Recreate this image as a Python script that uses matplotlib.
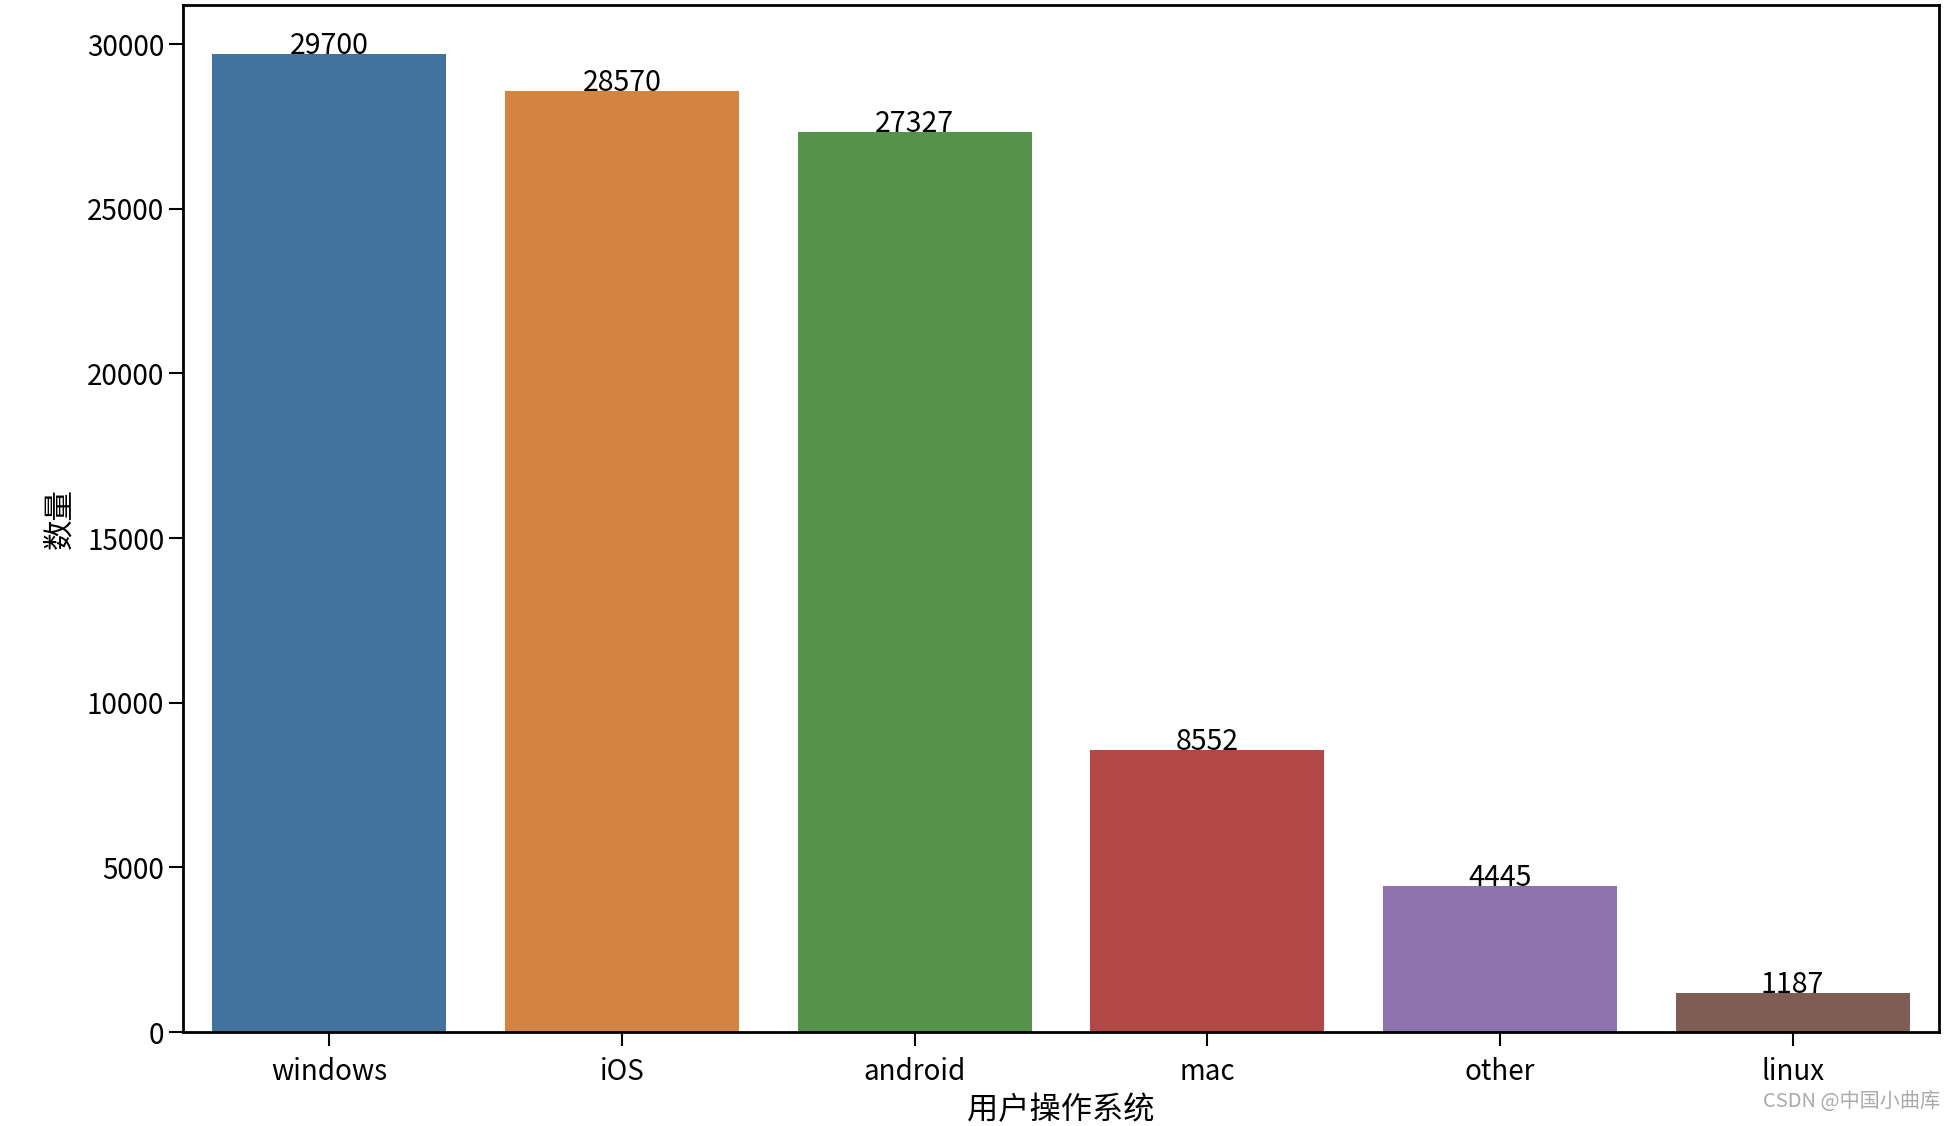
import matplotlib
matplotlib.use("Agg")
import matplotlib.pyplot as plt
import numpy as np

# 用户操作系统统计
systems = ["windows", "iOS", "android", "mac", "other", "linux"]
counts = [29700, 28570, 27327, 8552, 4445, 1187]
colors = ["#42739e", "#d5843f", "#55924a", "#b34745", "#8c73ad", "#7e5e54"]

plt.rcParams['font.family'] = ['Noto Sans CJK SC', 'DejaVu Sans']

fig = plt.figure(figsize=(19.54, 11.26), dpi=100)
ax = fig.add_axes([183 / 1954, 1 - 1032 / 1126, (1939 - 183) / 1954, (1032 - 5) / 1126])

x = np.arange(len(systems))
bars = ax.bar(x, counts, width=0.8, color=colors)
for xi, c in zip(x, counts):
    ax.text(xi, c, str(c), ha='center', va='baseline', fontsize=20.5)

ax.set_xlim(-0.5, len(systems) - 0.5)
ax.set_ylim(0, max(counts) * 1.05)
ax.set_yticks([0, 5000, 10000, 15000, 20000, 25000, 30000])
ax.set_xticks(x)
ax.set_xticklabels(systems)
ax.tick_params(axis='both', labelsize=20, length=10, width=1.5)
ax.tick_params(axis='x', pad=8)
for s in ax.spines.values():
    s.set_linewidth(2)

ax.set_xlabel("用户操作系统", fontsize=22.5, labelpad=5)
ax.set_ylabel("数量", fontsize=22, labelpad=8)

fig.text(0.993, 0.012, "CSDN @中国小曲库", ha='right', va='bottom',
         fontsize=14.5, color='#aaaaaa')

fig.savefig("out.png", dpi=100)
